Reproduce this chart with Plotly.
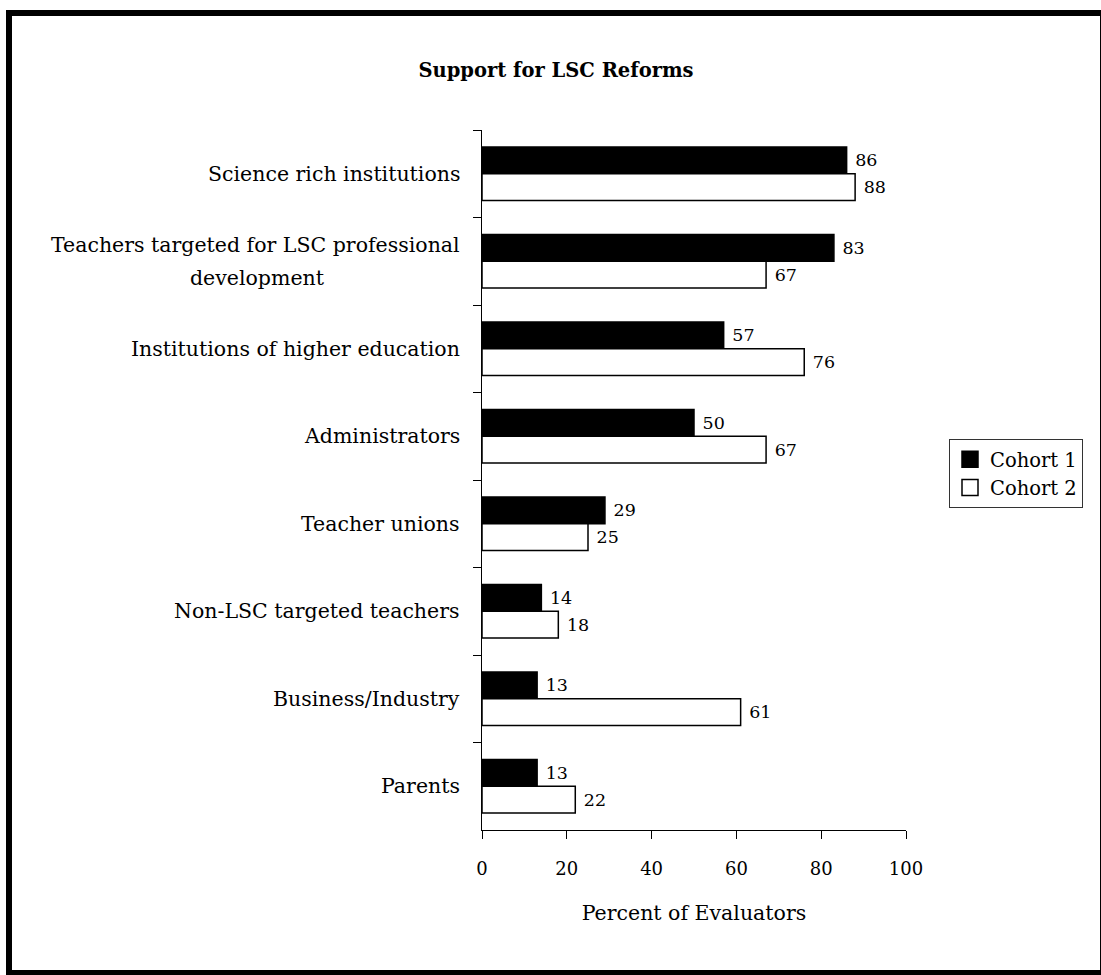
import plotly.graph_objects as go

categories = [
    "Science rich institutions",
    "Teachers targeted for LSC professional<br>development",
    "Institutions of higher education",
    "Administrators",
    "Teacher unions",
    "Non-LSC targeted teachers",
    "Business/Industry",
    "Parents",
]
cohort1 = [86, 83, 57, 50, 29, 14, 13, 13]
cohort2 = [88, 67, 76, 67, 25, 18, 61, 22]
series_names = ["Cohort 1", "Cohort 2"]
series_fill = ["black", "white"]
x_ticks = [0, 20, 40, 60, 80, 100]

FONT = "DejaVu Serif"
W, H = 1101, 975
L, R, T, B = 482, 195, 130, 145
pw, ph = W - L - R, H - T - B
LABEL_SIZE = 20.5
WRAP_WIDTH = 409  # approx pixel width of the first line of wrapped label

fig = go.Figure()
for name, vals, fill in zip(series_names, [cohort1, cohort2], series_fill):
    fig.add_trace(go.Bar(
        y=categories, x=vals, orientation="h", name=name, showlegend=False,
        marker=dict(color=fill, line=dict(color="black", width=1.5)),
        text=vals, texttemplate="\u00a0%{x}", textposition="outside",
        textfont=dict(family=FONT, size=17.5, color="black"), cliponaxis=False,
    ))

# legend entries with square swatches
for name, fill in zip(series_names, series_fill):
    fig.add_trace(go.Scatter(
        x=[None], y=[None], mode="markers", name=name, legendgroup=name,
        marker=dict(symbol="square", size=16, color=fill,
                    line=dict(color="black", width=1.5)),
        showlegend=True,
    ))

# category labels: first line right-aligned to the axis, following lines centred
for c in categories:
    lines = c.split("<br>")
    n = len(lines)
    for i, line in enumerate(lines):
        fig.add_annotation(
            x=0, xref="paper", y=c, yref="y", text=line, showarrow=False,
            xanchor="right" if i == 0 else "center",
            xshift=-20 if i == 0 else -20 - 0.5 * WRAP_WIDTH,
            yshift=((n - 1) / 2 - i) * 33,
            font=dict(family=FONT, size=LABEL_SIZE, color="black"),
        )

def px_x(p):
    return (p - L) / pw

def px_y(p):
    return (H - B - p) / ph

fig.add_shape(
    type="rect", xref="paper", yref="paper",
    x0=px_x(9), x1=px_x(1103), y0=px_y(973), y1=px_y(13),
    line=dict(color="black", width=6), fillcolor="rgba(0,0,0,0)", layer="above",
)

fig.update_layout(
    width=W, height=H,
    margin=dict(l=L, r=R, t=T, b=B),
    paper_bgcolor="white", plot_bgcolor="white",
    barmode="group", bargap=0.39, bargroupgap=0,
    font=dict(family=FONT, color="black"),
    title=dict(text="<b>Support for LSC Reforms</b>", x=556 / W, xref="container",
               xanchor="center", y=1 - 70 / H, yanchor="middle",
               font=dict(family=FONT, size=19.5, color="black")),
    showlegend=True,
    legend=dict(x=px_x(949), y=px_y(439), xanchor="left", yanchor="top",
                bordercolor="#333", borderwidth=1, bgcolor="white",
                traceorder="normal",
                font=dict(family=FONT, size=19.5, color="black"),
                itemwidth=30, tracegroupgap=16),
    xaxis=dict(range=[0, 100], tickvals=x_ticks, ticks="outside", ticklen=8,
               tickcolor="black", showline=True, linecolor="black", linewidth=1,
               showgrid=False, zeroline=False, ticklabelstandoff=14,
               tickfont=dict(family=FONT, size=18, color="black"),
               title=dict(text="Percent of Evaluators", standoff=28,
                          font=dict(family=FONT, size=20.5, color="black"))),
    yaxis=dict(autorange="reversed", showticklabels=False, ticks="outside",
               tickson="boundaries", ticklen=8, tickcolor="black",
               showline=True, linecolor="black", linewidth=1, showgrid=False,
               zeroline=False),
)

fig.write_html("out.html")
